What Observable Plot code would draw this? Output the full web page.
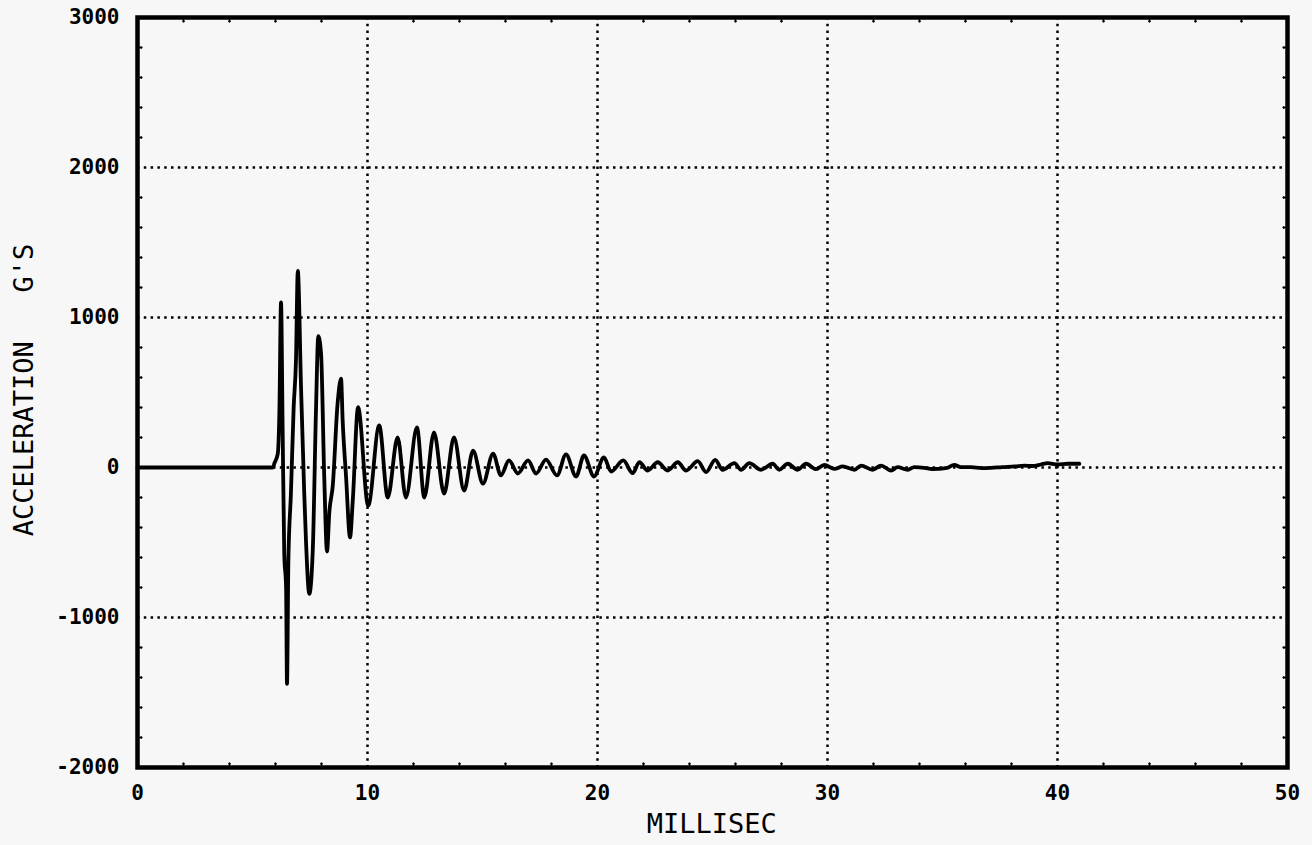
<!DOCTYPE html>
<html><head><meta charset="utf-8">
<script src="https://cdn.jsdelivr.net/npm/d3@7"></script>
<script src="https://cdn.jsdelivr.net/npm/@observablehq/plot@0.6"></script>
<style>
html,body{margin:0;padding:0;background:#f7f7f7;}
#chart{width:1312px;height:845px;}
svg text{white-space:pre;}
</style></head><body><div id="chart"></div>
<script>
// Time (ms) and acceleration (G's)
const timeMs = [0, 5.89, 5.95, 6.10, 6.17, 6.24, 6.31, 6.38, 6.46, 6.50, 6.56, 6.67, 6.79, 6.89, 6.97,
  7.11, 7.25, 7.33, 7.47, 7.62, 7.76, 7.86, 7.98, 8.12, 8.24, 8.34, 8.49, 8.70, 8.85, 8.92,
  9.07, 9.24, 9.36, 9.59, 10.03, 10.51, 10.88, 11.31, 11.67, 12.15, 12.47, 12.89, 13.33, 13.76,
  14.20, 14.59, 15.02, 15.46, 15.80, 16.15, 16.54, 16.98, 17.33, 17.76, 18.24, 18.63, 19.07,
  19.41, 19.85, 20.28, 20.59, 21.12, 21.53, 21.82, 22.18, 22.62, 23.05, 23.49, 23.85, 24.36,
  24.72, 25.12, 25.44, 25.95, 26.24, 26.60, 27.11, 27.62, 27.90, 28.27, 28.70, 29.07, 29.50,
  29.86, 30.30, 30.66, 31.17, 31.46, 31.96, 32.33, 32.76, 33.05, 33.49, 33.77, 34.21, 34.55,
  34.86, 35.20, 35.51, 35.80, 36.24, 36.70, 37.11, 37.60, 38.14, 38.56, 38.90, 39.28, 39.57,
  40.00, 40.44, 40.95];
const accelG = [0, 0, 27, 93, 380, 1100, 267, -574, -801, -1442, -621, -174, 401, 714, 1310,
  534, -174, -507, -843, -554, 381, 875, 761, -67, -560, -300, -120, 427, 592, 314,
  -67, -466, -220, 402, -254, 280, -200, 200, -200, 267, -200, 234, -174, 200,
  -154, 113, -107, 93, -53, 47, -40, 47, -40, 53, -53, 87, -60,
  80, -60, 67, -27, 47, -38, 35, -20, 35, -20, 35, -20, 42,
  -31, 51, -15, 29, -15, 29, -15, 25, -15, 25, -15, 25, -11,
  18, -9, 7, -15, 13, -15, 13, -20, 2, -15, 2, -2, -10,
  -9, -3, 18, 2, 2, -4, -2, 3, 7, 13, 10, 20, 29,
  20, 25, 25];

const xTicks = [0, 10, 20, 30, 40, 50];
const yTicks = [-2000, -1000, 0, 1000, 2000, 3000];
const xGrid = [10, 20, 30, 40];
const yGrid = [-1000, 0, 1000, 2000];
const xMinor = [2, 4, 6, 8, 12, 14, 16, 18, 22, 24, 26, 28, 32, 34, 36, 38, 42, 44, 46, 48];
const yMinor = [-1800, -1600, -1400, -1200, -800, -600, -400, -200, 200, 400, 600, 800,
  1200, 1400, 1600, 1800, 2200, 2400, 2600, 2800];
const xTitle = "MILLISEC";
const yTitle = "ACCELERATION   G'S";

const data = timeMs.map((t, i) => ({t, g: accelG[i]}));
const dotted = {stroke: "#000", strokeWidth: 2.5, strokeDasharray: "2.5,4.3"};
const minor = {length: 4.5, anchor: "start", stroke: "#000", strokeWidth: 1.3};
const font = "'DejaVu Sans Mono', monospace";

const plot = Plot.plot({
  width: 1312, height: 845,
  marginLeft: 137, marginRight: 25, marginTop: 17, marginBottom: 78,
  style: {background: "#f7f7f7", fontFamily: font, color: "#000"},
  x: {domain: [0, 50]},
  y: {domain: [-2000, 3000]},
  marks: [
    Plot.ruleX(xGrid, dotted),
    Plot.ruleY(yGrid, dotted),
    Plot.line(data, {x: "t", y: "g", stroke: "#000", strokeWidth: 3.8, curve: "monotone-x", strokeLinejoin: "round"}),
    Plot.vectorX(xMinor, {...minor, frameAnchor: "bottom", rotate: 0}),
    Plot.vectorX(xMinor, {...minor, frameAnchor: "top", rotate: 180}),
    Plot.vectorY(yMinor, {...minor, frameAnchor: "left", rotate: 90}),
    Plot.vectorY(yMinor, {...minor, frameAnchor: "right", rotate: -90}),
    Plot.frame({stroke: "#000", strokeWidth: 4.5}),
    Plot.axisX(xTicks, {tickSize: 0, tickPadding: 18, fontSize: 21, fontWeight: "bold", label: null, tickFormat: d => String(d)}),
    Plot.axisY(yTicks, {tickSize: 0, tickPadding: 18, fontSize: 21, fontWeight: "bold", label: null, tickFormat: d => String(d)})
  ]
});

const svg = d3.select(plot);
svg.append("text").attr("x", 711.75).attr("y", 833).attr("text-anchor", "middle")
  .attr("font-size", 27).attr("font-family", font).attr("fill", "#000").text(xTitle);
svg.append("text").attr("transform", "translate(33,390) rotate(-90)").attr("text-anchor", "middle")
  .attr("font-size", 27).attr("font-family", font).attr("fill", "#000").text(yTitle);

document.getElementById("chart").appendChild(plot);
</script></body></html>
